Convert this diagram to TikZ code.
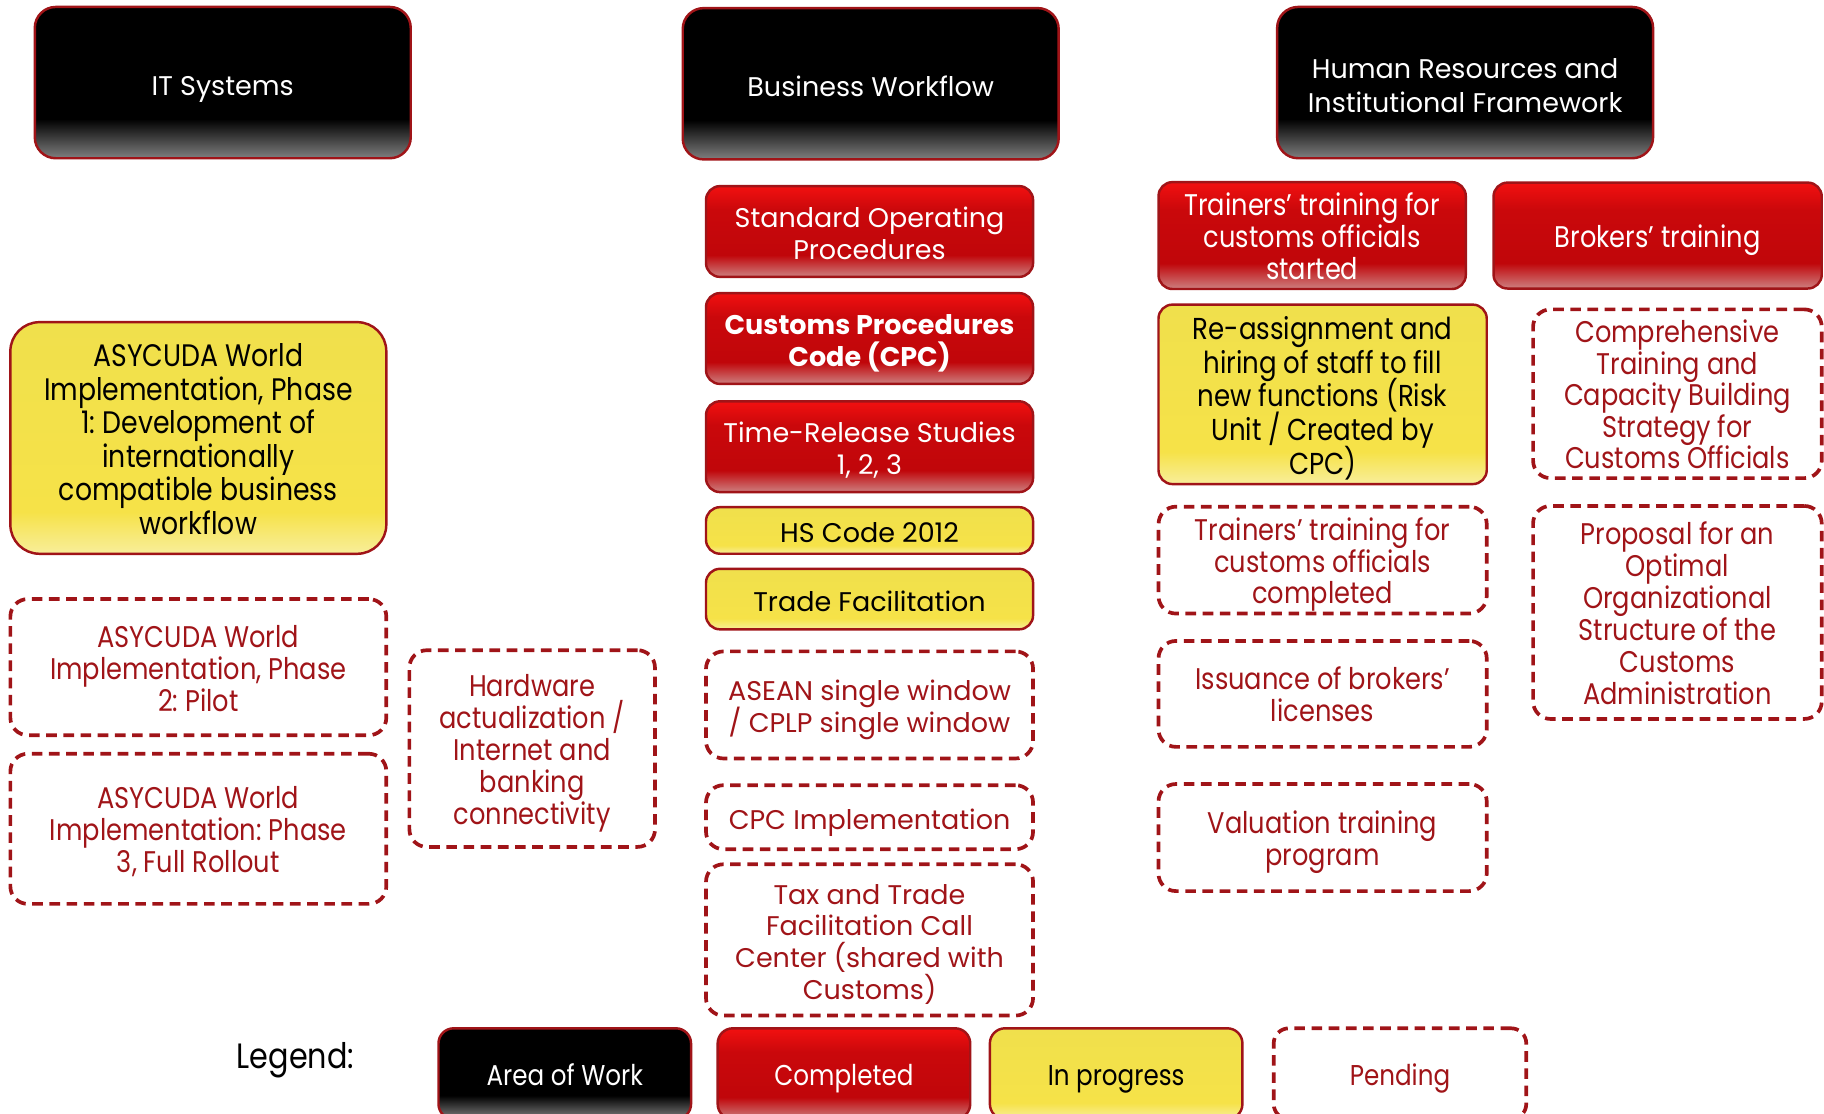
\documentclass[tikz,border=0pt]{standalone}
\usepackage{fontspec}
\setmainfont{Poppins}
\newfontfamily\narrowfont[FakeStretch=0.86]{Poppins}
\usetikzlibrary{positioning}
\frenchspacing
\definecolor{rimred}{RGB}{160,20,24}
\definecolor{donelow}{RGB}{205,128,128}
\definecolor{donemid}{RGB}{192,6,10}
\definecolor{donetop}{RGB}{242,16,16}
\definecolor{proglow}{RGB}{248,238,155}
\definecolor{progmid}{RGB}{246,226,72}
\definecolor{progtop}{RGB}{240,224,76}
\pgfdeclareverticalshading{areashade}{100bp}{color(0bp)=(black!50); color(25bp)=(black!50); color(38bp)=(black); color(100bp)=(black)}
\pgfdeclareverticalshading{doneshade}{100bp}{color(0bp)=(donelow); color(25bp)=(donelow); color(37bp)=(donemid); color(62bp)=(donemid!80!donetop); color(75bp)=(donetop); color(100bp)=(donetop)}
\pgfdeclareverticalshading{progshade}{100bp}{color(0bp)=(proglow); color(25bp)=(proglow); color(34bp)=(progmid); color(75bp)=(progtop); color(100bp)=(progtop)}
\newcommand{\bodysize}{\fontsize{6.6}{7.8}\selectfont\lineskiplimit=-5pt}
\newcommand{\headsize}{\fontsize{6.6}{8.3}\selectfont\lineskiplimit=-5pt}
\newcommand{\narrowtext}[2]{\narrowfont\fontsize{#1}{#2}\selectfont\lineskiplimit=-5pt}
\newcommand{\topstrut}{\rule[-0.3\baselineskip]{0pt}{1.35\baselineskip}}
\begin{document}
\begin{tikzpicture}[x=0.01cm,y=-0.01cm,
    boxtext/.style={align=flush center,inner sep=0pt,execute at begin node=\topstrut,execute at end node=\strut},
    boxsize/.style 2 args={minimum width=#1,text width=#1-0.1cm,minimum height=#2},
    areabox/.style={boxtext,draw=rimred,line width=0.6pt,shading=areashade,rounded corners=0.18cm,text=white,font=\headsize},
    donebox/.style={boxtext,draw=rimred,line width=0.6pt,shading=doneshade,rounded corners=0.12cm,text=white,font=\bodysize},
    progbox/.style={boxtext,draw=rimred,line width=0.6pt,shading=progshade,rounded corners=0.12cm,text=black,font=\bodysize},
    pendbox/.style={boxtext,draw=rimred,line width=0.9pt,dash pattern=on 2.6pt off 1.6pt,rounded corners=0.15cm,text=rimred,font=\bodysize}]
    \clip (0,0) rectangle (1568,957);
    \node[areabox,boxsize={3.23cm}{1.30cm}] (it) at (191.5,71) {IT Systems};
    \node[areabox,boxsize={3.23cm}{1.30cm}] (bw) at (748.5,72) {Business Workflow};
    \node[areabox,boxsize={3.23cm}{1.30cm}] (hr) at (1259.5,71) {Human Resources and\\Institutional Framework};

    \node[donebox,boxsize={2.81cm}{0.78cm}] (sop) at (747.5,199) {Standard Operating\\Procedures};
    \node[donebox,boxsize={2.81cm}{0.78cm},font=\bodysize\bfseries] (cpc) at (747.5,291) {Customs Procedures\\Code (CPC)};
    \node[donebox,boxsize={2.81cm}{0.78cm}] (trs) at (747.5,384) {Time-Release Studies\\1, 2, 3};
    \node[progbox,boxsize={2.81cm}{0.40cm}] (hs) at (747.5,456) {HS Code 2012};
    \node[progbox,boxsize={2.81cm}{0.52cm}] (tf) at (747.5,515) {Trade Facilitation};
    \node[pendbox,boxsize={2.81cm}{0.92cm}] (asean) at (747.5,606) {ASEAN single window\\/ CPLP single window};
    \node[pendbox,boxsize={2.81cm}{0.55cm}] (cpcimpl) at (747.5,702.5) {CPC Implementation};
    \node[pendbox,boxsize={2.81cm}{1.30cm}] (callc) at (747.5,808) {Tax and Trade\\Facilitation Call\\Center (shared with\\Customs)};

    \node[progbox,boxsize={3.23cm}{1.99cm},rounded corners=0.25cm,font=\narrowtext{7.6}{8.2}] (asy1) at (170.5,376.5) {ASYCUDA World\\Implementation, Phase\\1: Development of\\internationally\\compatible business\\workflow};
    \node[pendbox,boxsize={3.23cm}{1.17cm},font=\narrowtext{7.3}{7.8}] (asy2) at (170.5,573.5) {ASYCUDA World\\Implementation, Phase\\2: Pilot};
    \node[pendbox,boxsize={3.23cm}{1.29cm},font=\narrowtext{7.3}{7.8}] (asy3) at (170.5,712.5) {ASYCUDA World\\Implementation: Phase\\3, Full Rollout};
    \node[pendbox,boxsize={2.11cm}{1.69cm},font=\narrowtext{7.3}{7.8}] (hw) at (457.5,643.5) {Hardware\\actualization /\\Internet and\\banking\\connectivity};

    \node[donebox,boxsize={2.64cm}{0.91cm},font=\narrowtext{7.3}{7.8}] (trstart) at (1128,202.5) {Trainers’ training for\\customs officials\\started};
    \node[donebox,boxsize={2.82cm}{0.91cm},font=\narrowtext{7.3}{7.8}] (brok) at (1425,202.5) {Brokers’ training};
    \node[progbox,boxsize={2.82cm}{1.46cm},font=\narrowtext{7.4}{8.2},execute at begin node={},execute at end node={}] (reassign) at (1137,339) {Re-assignment and\\hiring of staff to fill\\new functions (Risk\\Unit / Created by\\CPC)};
    \node[pendbox,boxsize={2.48cm}{1.45cm},font=\narrowtext{7.3}{7.7}] (ctcb) at (1442,338.5) {Comprehensive\\Training and\\Capacity Building\\Strategy for\\Customs Officials};
    \node[pendbox,boxsize={2.82cm}{0.91cm},font=\narrowtext{7.3}{7.8}] (trdone) at (1137,481.5) {Trainers’ training for\\customs officials\\completed};
    \node[pendbox,boxsize={2.48cm}{1.83cm},font=\narrowtext{7.3}{7.8}] (prop) at (1442,526.5) {Proposal for an\\Optimal\\Organizational\\Structure of the\\Customs\\Administration};
    \node[pendbox,boxsize={2.82cm}{0.91cm},font=\narrowtext{7.3}{7.8}] (lic) at (1137,596.5) {Issuance of brokers’\\licenses};
    \node[pendbox,boxsize={2.82cm}{0.92cm},font=\narrowtext{7.3}{7.8}] (val) at (1137,720) {Valuation training\\program};

    \node[font=\narrowtext{8.6}{9.6}] (leg) at (254,911) {Legend:};
    \foreach \x/\s/\t/\n in {485.5/areabox/Area of Work/lgarea,725.5/donebox/Completed/lgdone,959.5/progbox/In progress/lgprog,1203.5/pendbox/Pending/lgpend} {
        \node[\s,boxsize={2.17cm}{0.78cm},rounded corners=0.13cm,font=\narrowtext{7.0}{7.8}] (\n) at (\x,923) {\t};
    }
\end{tikzpicture}
\end{document}
